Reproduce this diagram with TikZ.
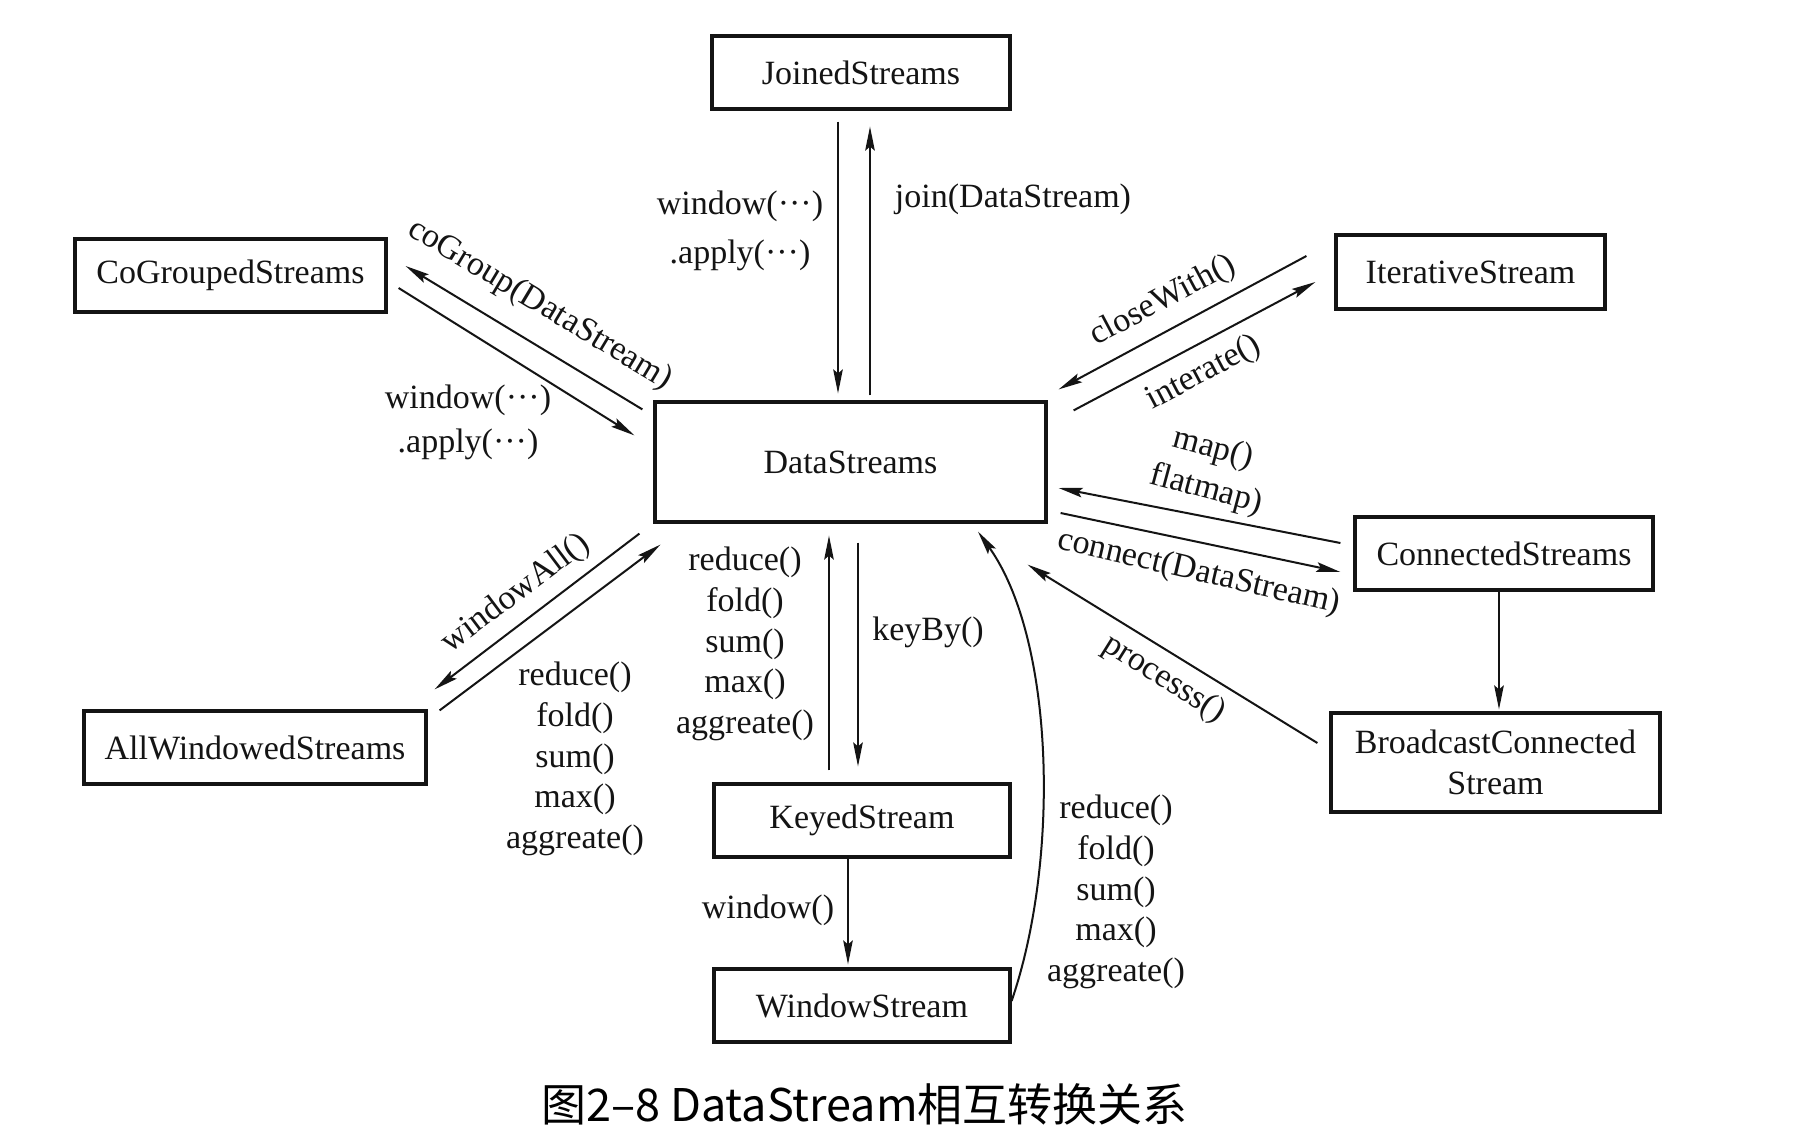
\documentclass[tikz,border=0pt]{standalone}
\usepackage{fontspec}
\setmainfont{Liberation Serif}
\newfontfamily\cjk{Noto Sans CJK SC}
\usetikzlibrary{arrows.meta,calc}
\definecolor{inkc}{RGB}{20,20,20}
\begin{document}
\begin{tikzpicture}[x=0.5pt,y=-0.5pt,
  box/.style={draw=inkc, line width=1.6pt, inner sep=0pt, text=inkc,
    font=\fontsize{17}{20.5}\selectfont, align=center},
  lbl/.style={inner sep=0pt, text=inkc, font=\fontsize{17}{20.3}\selectfont, align=center},
  arr/.style={draw=inkc, line width=1pt, -{Stealth[length=12pt,width=4.8pt,inset=2pt]}}]
\useasboundingbox[fill=white] (0,0) rectangle (1812,1136);

% boxes
\node[box, minimum width=149pt, minimum height=36.5pt] (Joined) at (861,72.5) {JoinedStreams};
\node[box, minimum width=155.5pt, minimum height=36.5pt] (CoG) at (230.5,275.5) {CoGroupedStreams};
\node[box, minimum width=134.5pt, minimum height=37pt] (Iter) at (1470.5,272) {IterativeStream};
\node[box, minimum width=195.5pt, minimum height=60pt] (DS) at (850.5,462) {DataStreams};
\node[box, minimum width=149pt, minimum height=36.5pt] (Conn) at (1504,553.5) {ConnectedStreams};
\node[box, minimum width=164.5pt, minimum height=49.5pt] (Broad) at (1495.5,762.5) {BroadcastConnected\\Stream};
\node[box, minimum width=171pt, minimum height=36.5pt] (AllW) at (255,747.5) {AllWindowedStreams};
\node[box, minimum width=148pt, minimum height=36.5pt] (Keyed) at (862,820.5) {KeyedStream};
\node[box, minimum width=148pt, minimum height=36.5pt] (Win) at (862,1005.5) {WindowStream};

% connectors
\draw[arr] ($(Joined.south)+(-23,11)$) -- ($(DS.north)+(-12.5,-7)$);
\draw[arr] ($(DS.north)+(19.5,-5)$) -- ($(Joined.south)+(9,16)$);
\draw[arr] ($(DS.north west)+(-11,9)$) -- ($(CoG.east)+(18,-9.5)$);
\draw[arr] ($(CoG.east)+(11,12.5)$) -- ($(DS.north west)+(-19,35)$);
\draw[arr] ($(Iter.west)+(-28,-16)$) -- ($(DS.north east)+(11,-11)$);
\draw[arr] ($(DS.north east)+(26,10)$) -- ($(Iter.west)+(-19,10)$);
\draw[arr] ($(Conn.west)+(-13,-10.5)$) -- ($(DS.east)+(11,26)$);
\draw[arr] ($(DS.east)+(13,51)$) -- ($(Conn.west)+(-13,18.5)$);
\draw[arr] ($(Conn.south)+(-5,0)$) -- ($(Broad.north)+(3.5,-2)$);
\draw[arr] ($(Broad.west)+(-12,-19.5)$) -- ($(DS.south east)+(-20,41)$);
\draw[arr] ($(DS.south west)+(-14,10)$) -- ($(AllW.north east)+(7,-20)$);
\draw[arr] ($(AllW.north east)+(12,1)$) -- ($(DS.south west)+(7,21)$);
\draw[arr] ($(Keyed.north)+(-33,-12)$) -- ($(DS.south)+(-21.5,12)$);
\draw[arr] ($(DS.south)+(7.5,19)$) -- ($(Keyed.north)+(-4,-16)$);
\draw[arr] ($(Keyed.south)+(-14,0)$) -- ($(Win.north)+(-14,-3)$);
\draw[arr] ($(Win.east)+(0,-4.5)$) .. controls (1060,860) and (1055,640) .. ($(DS.south)+(127.5,8)$);

% labels
\node[lbl, font=\fontsize{17}{24.5}\selectfont] (l1) at (740,231) {window(···)\\.apply(···)};
\node[lbl] (l2) at (1013,199) {join(DataStream)};
\node[lbl, rotate=-31] (l3) at (540,305) {coGroup(DataStream)};
\node[lbl, font=\fontsize{17}{22}\selectfont] (l4) at (468,422) {window(···)\\.apply(···)};
\node[lbl, rotate=28] (l5) at (1163,301) {closeWith()};
\node[lbl, rotate=28] (l6) at (1204,373) {interate()};
\node[lbl, rotate=-15] (l7) at (1213,449) {map()};
\node[lbl, rotate=-15] (l8) at (1206,490) {flatmap)};
\node[lbl, rotate=-13] (l9) at (1199,573) {connect(DataStream)};
\node[lbl, rotate=-32] (l10) at (1164,679) {processs()};
\node[lbl, rotate=37] (l11) at (516,594) {windowAll()};
\node[lbl] (l12) at (575,759) {reduce()\\fold()\\sum()\\max()\\aggreate()};
\node[lbl] (l13) at (745,644) {reduce()\\fold()\\sum()\\max()\\aggreate()};
\node[lbl] (l14) at (1116,892) {reduce()\\fold()\\sum()\\max()\\aggreate()};
\node[lbl] (l15) at (928,632) {keyBy()};
\node[lbl] (l16) at (768,910) {window()};
\node[inner sep=0pt, text=black, font=\cjk\fontsize{22.5}{27}\selectfont] (cap) at (864.5,1104) {图2–8 DataStream相互转换关系};
\end{tikzpicture}
\end{document}
